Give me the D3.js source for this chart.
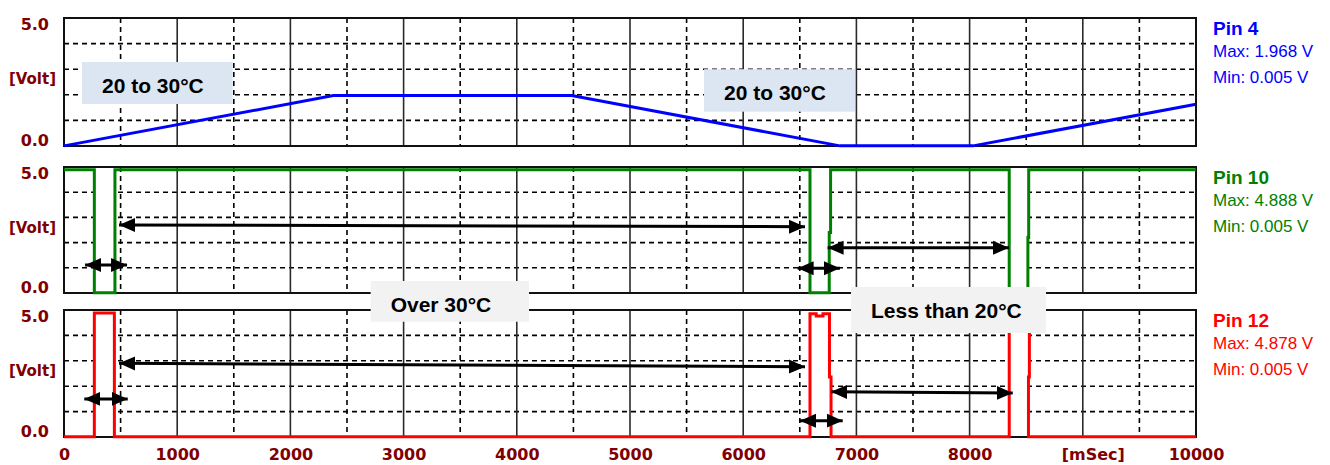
<!DOCTYPE html>
<html>
<head>
    <meta charset="utf-8">
    <title>pin_timing</title>
    <style>
        body { margin: 0; background: #fff; }
    </style>
</head>
<body>
<script src="https://cdnjs.cloudflare.com/ajax/libs/d3/7.8.5/d3.min.js"></script>
<script>
    // time axis, ms
    var timeTicks = [0, 1000, 2000, 3000, 4000, 5000, 6000, 7000, 8000, 9000, 10000];
    var timeLabels = ["0", "1000", "2000", "3000", "4000", "5000", "6000", "7000", "8000", "[mSec]", "10000"];
    var majorGrid = [1000, 2000, 3000, 4000, 5000, 6000, 7000, 8000, 9000];
    var minorGrid = [500, 1500, 2500, 3500, 4500, 5500, 6500, 7500, 8500, 9500];
    var voltGrid = [1, 2, 3, 4];

    // signals [ms, volt]
    var pin4 = [[0, 0.005], [2380, 1.968], [4485, 1.968], [6855, 0.005], [8030, 0.005], [10000, 1.63]];
    var pin10 = [[0, 4.888], [268, 4.888], [268, 0.005], [450, 0.005], [450, 4.888],
        [6590, 4.888], [6590, 0.005], [6760, 0.005], [6760, 2.4], [6772, 2.4], [6772, 4.888],
        [8350, 4.888], [8350, 0.005], [8515, 0.005], [8515, 2.2], [8522, 2.2], [8522, 4.888], [10000, 4.888]];
    var pin12 = [[0, 0.005], [268, 0.005], [268, 4.878], [445, 4.878], [445, 0.005],
        [6590, 0.005], [6590, 4.85], [6645, 4.85], [6645, 4.76], [6705, 4.76], [6705, 4.85], [6762, 4.85],
        [6762, 2.36], [6776, 2.36], [6776, 0.005],
        [8350, 0.005], [8350, 4.878], [8528, 4.878], [8528, 2.36], [8520, 2.36], [8520, 0.005], [10000, 0.005]];
    // white gaps inside the pulses (pin 10 and pin 12)
    var pulseGaps = [[268, 447], [6590, 6770], [8350, 8522]];

    var pinNames = ["Pin 4", "Pin 10", "Pin 12"];
    var pinMax = ["1.968", "4.888", "4.878"];
    var pinMin = ["0.005", "0.005", "0.005"];

    // double arrows [t0, v0, t1, v1]
    var arrows10 = [[486, 2.70, 6546, 2.63], [186, 1.11, 557, 1.11], [6481, 0.98, 6855, 0.98], [6746, 1.80, 8348, 1.80]];
    var arrows12 = [[486, 2.90, 6546, 2.77], [179, 1.50, 563, 1.50], [6502, 0.64, 6879, 0.64], [6776, 1.78, 8381, 1.73]];

    // note boxes: panel, t0, t1, vTop, vBottom
    var boxText = ["20 to 30°C", "20 to 30°C", "Over 30°C", "Less than 20°C"];
    var boxPanel = [0, 0, 1, 1];
    var boxT = [[159, 1490], [5654, 6988], [2709, 4108], [6952, 8675]];
    var boxV = [[3.28, 1.64], [3.0, 1.34], [0.476, -1.14], [0.238, -1.587]];
    var boxFill = ["#dce6f2", "#dce6f2", "#f2f2f2", "#f2f2f2"];

    var width = 1330, height = 465;
    var axisColor = "#800000";
    var panels = [
        { top: 18, bottom: 146, color: "#0000ff", data: pin4, arrows: [] , gaps: false},
        { top: 167, bottom: 293, color: "#008000", data: pin10, arrows: arrows10, gaps: true },
        { top: 310, bottom: 437, color: "#ff0000", data: pin12, arrows: arrows12, gaps: true }
    ];

    var svg = d3.select("body").append("svg")
        .attr("width", width).attr("height", height);

    var defs = svg.append("defs");
    defs.append("marker")
        .attr("id", "head")
        .attr("markerUnits", "userSpaceOnUse")
        .attr("markerWidth", 18).attr("markerHeight", 16)
        .attr("viewBox", "0 -8 18 16")
        .attr("refX", 16).attr("refY", 0)
        .attr("orient", "auto-start-reverse")
        .append("path")
        .attr("d", "M0,-7L16,0L0,7Z")
        .attr("fill", "#000");

    var x = d3.scaleLinear().domain([0, 10000]).range([64, 1196]);

    panels.forEach(function (p, i) {
        p.y = d3.scaleLinear().domain([0, 5]).range([p.bottom, p.top]);
        var g = svg.append("g");

        // grid
        g.selectAll(".hgrid").data(voltGrid).enter().append("line")
            .attr("x1", x(0)).attr("x2", x(10000))
            .attr("y1", function (d) { return p.y(d); })
            .attr("y2", function (d) { return p.y(d); })
            .attr("stroke", "#000").attr("stroke-width", 1.6)
            .attr("stroke-dasharray", "5,4");
        g.selectAll(".vminor").data(minorGrid).enter().append("line")
            .attr("x1", function (d) { return x(d); })
            .attr("x2", function (d) { return x(d); })
            .attr("y1", p.top).attr("y2", p.bottom)
            .attr("stroke", "#000").attr("stroke-width", 1.6)
            .attr("stroke-dasharray", "5,4");
        g.selectAll(".vmajor").data(majorGrid).enter().append("line")
            .attr("x1", function (d) { return x(d); })
            .attr("x2", function (d) { return x(d); })
            .attr("y1", p.top).attr("y2", p.bottom)
            .attr("stroke", "#2a2a2a").attr("stroke-width", 1.6);

        // inside of the pulses is blank
        if (p.gaps) {
            g.selectAll(".gap").data(pulseGaps).enter().append("rect")
                .attr("x", function (d) { return x(d[0]); })
                .attr("width", function (d) { return x(d[1]) - x(d[0]); })
                .attr("y", p.top + 1).attr("height", p.bottom - p.top - 2)
                .attr("fill", "#fff");
        }

        g.append("rect")
            .attr("x", x(0)).attr("y", p.top)
            .attr("width", x(10000) - x(0)).attr("height", p.bottom - p.top)
            .attr("fill", "none").attr("stroke", "#111").attr("stroke-width", 2);

        var line = d3.line()
            .x(function (d) { return x(d[0]); })
            .y(function (d) { return p.y(d[1]); });
        g.append("path").datum(p.data)
            .attr("d", line)
            .attr("fill", "none")
            .attr("stroke", p.color).attr("stroke-width", 3)
            .attr("stroke-linejoin", "miter");

        // y labels
        g.append("text").text("5.0")
            .attr("x", 49).attr("y", p.top + 12)
            .attr("text-anchor", "end");
        g.append("text").text("0.0")
            .attr("x", 49).attr("y", p.bottom)
            .attr("text-anchor", "end");
        g.append("text").text("[Volt]")
            .attr("x", 56).attr("y", p.top + 66)
            .attr("text-anchor", "end").attr("font-size", "15px");
        g.selectAll("text")
            .attr("font-family", "DejaVu Sans, sans-serif")
            .attr("font-weight", "bold")
            .attr("fill", axisColor)
            .filter(function () { return !this.getAttribute("font-size"); })
            .attr("font-size", "16px");

        // right legend
        var lg = svg.append("g").attr("fill", p.color).attr("font-family", "Liberation Sans, Arial, sans-serif");
        lg.append("text").text(pinNames[i])
            .attr("x", 1213).attr("y", p.top + 17)
            .attr("font-weight", "bold").attr("font-size", "19px");
        lg.append("text").text("Max: " + pinMax[i] + " V")
            .attr("x", 1213).attr("y", p.top + 39)
            .attr("font-size", "17px");
        lg.append("text").text("Min: " + pinMin[i] + " V")
            .attr("x", 1213).attr("y", p.top + 65)
            .attr("font-size", "17px");
    });

    // note boxes
    boxText.forEach(function (t, i) {
        var ys = panels[boxPanel[i]].y;
        var bx = x(boxT[i][0]), by = ys(boxV[i][0]);
        svg.append("rect")
            .attr("x", bx).attr("y", by)
            .attr("width", x(boxT[i][1]) - bx)
            .attr("height", ys(boxV[i][1]) - by)
            .attr("fill", boxFill[i]);
        svg.append("text").text(t)
            .attr("x", bx + 20).attr("y", by + 30.5)
            .attr("font-family", "Liberation Sans, Arial, sans-serif")
            .attr("font-weight", "bold").attr("font-size", "21px")
            .attr("fill", "#000");
    });

    // arrows
    panels.forEach(function (p) {
        svg.selectAll(null).data(p.arrows).enter().append("line")
            .attr("x1", function (d) { return x(d[0]); })
            .attr("y1", function (d) { return p.y(d[1]); })
            .attr("x2", function (d) { return x(d[2]); })
            .attr("y2", function (d) { return p.y(d[3]); })
            .attr("stroke", "#000").attr("stroke-width", 3)
            .attr("marker-start", "url(#head)")
            .attr("marker-end", "url(#head)");
    });

    // time axis labels
    var xAxis = d3.axisBottom(x)
        .tickValues(timeTicks)
        .tickSize(0)
        .tickFormat(function (d, i) { return timeLabels[i]; });
    var ax = svg.append("g")
        .attr("transform", "translate(0,445)")
        .call(xAxis);
    ax.select(".domain").remove();
    ax.selectAll("text")
        .attr("y", 15).attr("dy", 0)
        .attr("font-family", "DejaVu Sans, sans-serif")
        .attr("font-weight", "bold")
        .attr("font-size", "16px")
        .attr("fill", axisColor)
        .attr("dx", function (d) { return d === 9000 ? 10 : 0; });
</script>
</body>
</html>
